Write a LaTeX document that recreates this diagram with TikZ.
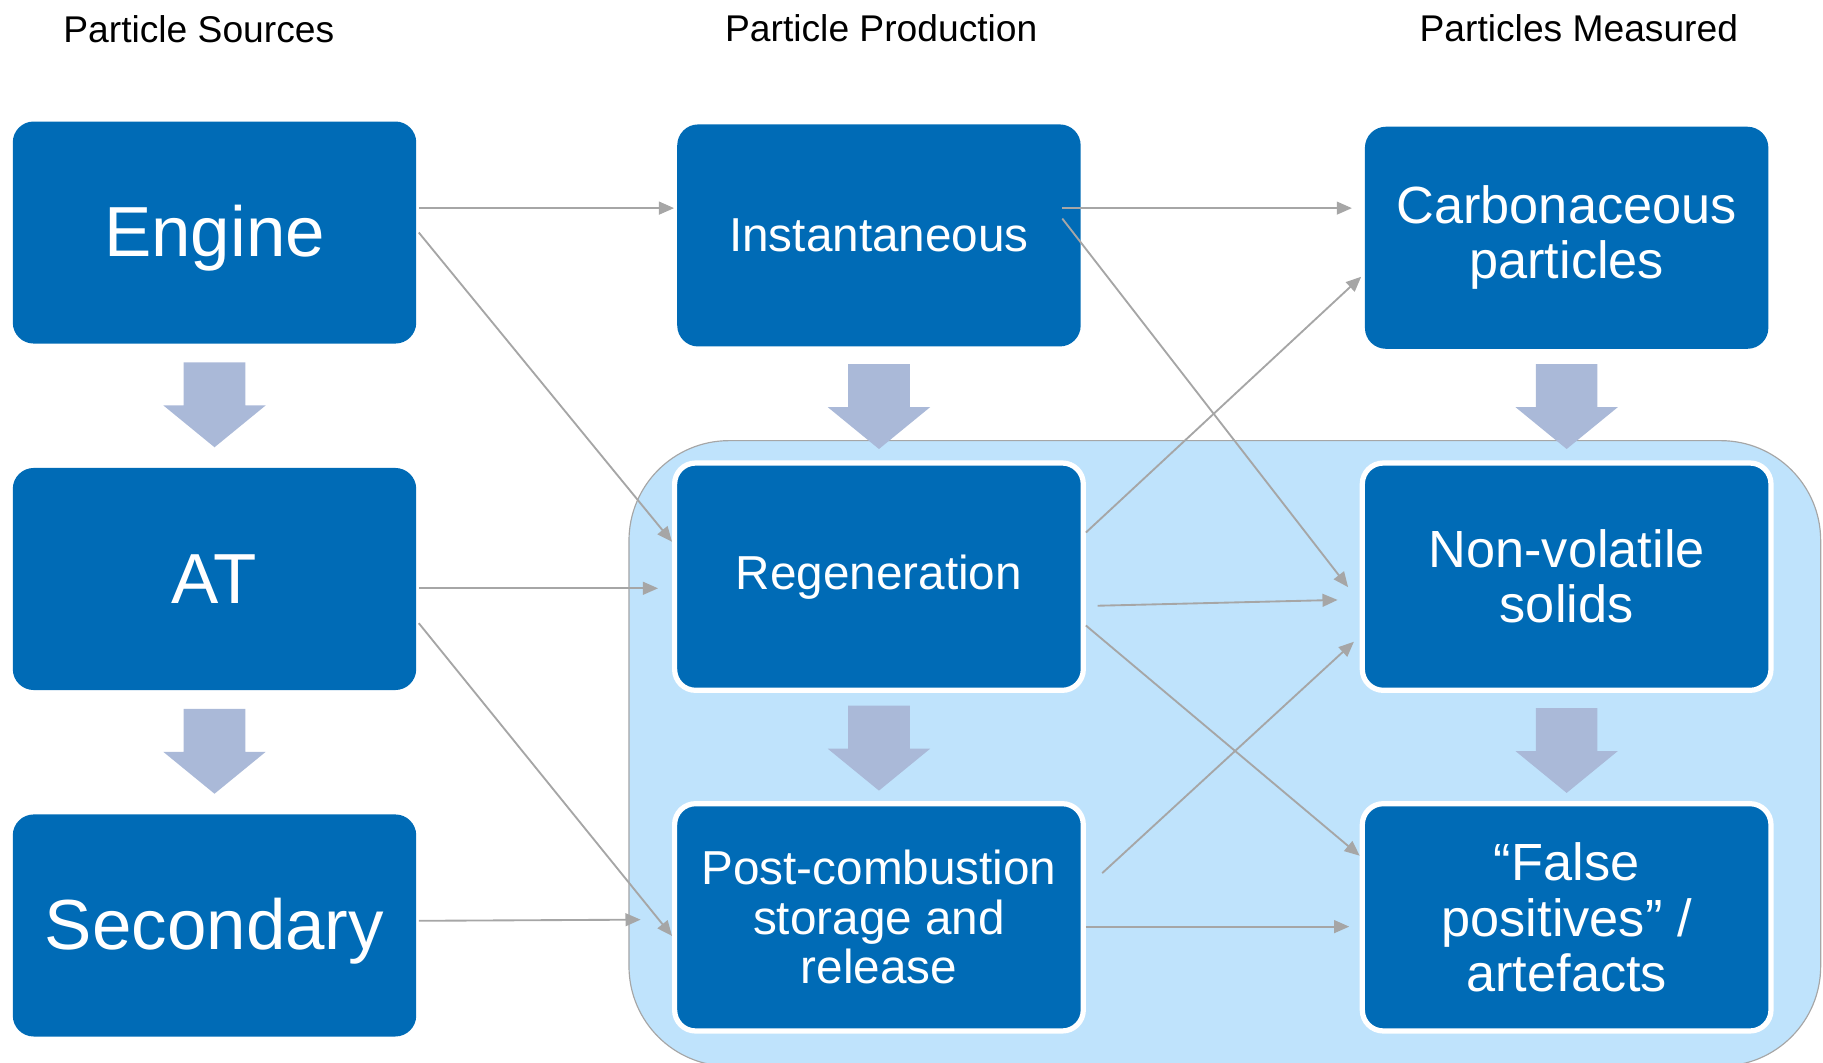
\documentclass[tikz,border=0pt]{standalone}
\usepackage{fontspec}
\setmainfont{Liberation Sans}
\usetikzlibrary{arrows.meta,calc}
\definecolor{boxblue}{RGB}{0,107,182}
\definecolor{regionfill}{RGB}{191,227,252}
\definecolor{linegray}{RGB}{166,166,166}
\definecolor{blockfill}{RGB}{170,185,216}
\begin{document}
\begin{tikzpicture}[x=1pt,y=-1pt,
  box/.style={fill=boxblue, rounded corners=18pt, minimum width=347pt,
    minimum height=191pt, inner sep=0pt, text=white, align=center},
  framed/.style={box, draw=white, line width=4.5pt,
    minimum width=351.5pt, minimum height=195.5pt},
  bigtext/.style={font=\fontsize{61}{66}\selectfont, text height=44pt, text depth=2pt},
  midtext/.style={font=\fontsize{41}{42.5}\selectfont},
  rtext/.style={font=\fontsize{45}{47.5}\selectfont},
  header/.style={font=\fontsize{32}{38}\selectfont, text=black, inner sep=0pt},
  conn/.style={draw=linegray, line width=1.6pt,
    -{Triangle[length=13pt,width=11pt]}},
  dnarrow/.pic={\fill[blockfill] (-26.5,0) -- (26.5,0) -- (26.5,37) -- (44,37)
    -- (0,73) -- (-44,37) -- (-26.5,37) -- cycle;}
]
\useasboundingbox (0,0) rectangle (1568,914);

% column headings
\node[header] (hsrc)  at (171,25) {Particle Sources};
\node[header] (hprod) at (758,24) {Particle Production};
\node[header] (hmeas) at (1358,24) {Particles Measured};

% shaded area for particles formed after the engine
\draw[linegray, line width=1pt, fill=regionfill, rounded corners=86pt]
  (541,379) rectangle (1566,917);

% sources
\node[box, bigtext] (eng) at (184.5,200) {Engine};
\node[box, bigtext] (at)  at (184.5,498) {AT};
\node[box, bigtext] (sec) at (184.5,796) {Secondary};

% production
\node[box, midtext]    (inst)  at (756,202.5) {Instantaneous};
\node[framed, midtext] (regen) at (756,496)   {Regeneration};
\node[framed, midtext] (post)  at (756,789)   {Post-combustion\\storage and\\release};

% measured
\node[box, rtext]    (carb) at (1347.5,204.5) {Carbonaceous\\particles};
\node[framed, rtext] (nonv) at (1347.5,496)   {Non-volatile\\solids};
\node[framed, rtext] (fals) at (1347.5,789)   {“False\\positives” /\\artefacts};

% block arrows down each column
\pic at ($(eng.south)+(0,16)$) {dnarrow};
\pic at ($(at.south)+(0,16)$) {dnarrow};
\pic at ($(inst.south)+(0,15)$) {dnarrow};
\pic at ($(regen.south)+(0,11)$) {dnarrow};
\pic at ($(carb.south)+(0,13)$) {dnarrow};
\pic at ($(nonv.south)+(0,13)$) {dnarrow};

% sources to production
\draw[conn] ($(eng.east)+(2,-21)$) -- ($(inst.west)+(-2.5,-23.5)$);
\draw[conn] ($(eng.east)+(2,0)$)   -- ($(regen.west)+(0,-30)$);
\draw[conn] ($(at.east)+(2,8)$)    -- ($(regen.west)+(-12,10)$);
\draw[conn] ($(at.east)+(2,38)$)   -- ($(post.west)+(0,16)$);
\draw[conn] ($(sec.east)+(2,-4)$)  -- ($(post.west)+(-27,2)$);

% production to measured
\draw[conn] ($(inst.east)+(-16,-23.5)$) -- ($(carb.west)+(-11,-25.5)$);
\draw[conn] ($(inst.east)+(-16,-14.5)$) -- ($(nonv.west)+(-10,9)$);
\draw[conn] ($(regen.east)+(0,-38)$)    -- ($(carb.west)+(-3,33.5)$);
\draw[conn] ($(regen.east)+(10,25)$)    -- ($(nonv.west)+(-19,20)$);
\draw[conn] ($(regen.east)+(0,42)$)     -- ($(fals.west)+(0,-53)$);
\draw[conn] ($(post.east)+(14,-38)$)    -- ($(nonv.west)+(-5,56)$);
\draw[conn] ($(post.east)+(0,8)$)       -- ($(fals.west)+(-9,8)$);
\end{tikzpicture}
\end{document}
